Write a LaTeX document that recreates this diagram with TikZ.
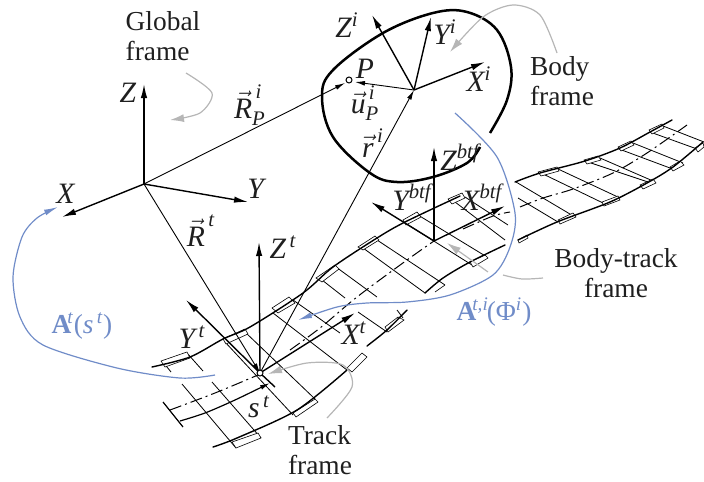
\documentclass[tikz,border=0pt]{standalone}
\usepackage{amsmath}
\usepackage{fontspec}
\setmainfont{Liberation Serif}
\usepackage{tikz}
\usetikzlibrary{arrows.meta}
\definecolor{bluearc}{RGB}{112,140,200}
\definecolor{greyarc}{RGB}{182,182,182}
\newcommand{\ii}[1]{\textit{#1}}
\begin{document}
\begin{tikzpicture}[
  x=.5pt, y=-.5pt,
  lab/.style={font=\fontsize{13.7}{15}\selectfont, inner sep=0pt, text=black!88},
  mlab/.style={font=\fontsize{14.8}{15}\selectfont, inner sep=0pt, text=black!88},
  axis/.style={-{Latex[length=7pt,width=3.2pt]}, line width=.7pt},
  vecline/.style={-{Latex[length=5pt,width=2.4pt]}, line width=.45pt},
  blueline/.style={-{Latex[length=7pt,width=3pt]}, line width=.6pt, bluearc},
  greyline/.style={-{Latex[length=7pt,width=4pt]}, line width=.6pt, greyarc},
  rail/.style={line width=.7pt, line cap=round},
  tieline/.style={line width=.4pt},
  plateline/.style={line width=.3pt},
  centerline/.style={line width=.5pt, dash pattern=on 6pt off 2pt on 1pt off 2pt}]
\useasboundingbox (0,0) rectangle (704,481);
% frame origins and axis tips
\coordinate (global) at (144,184);
\coordinate (body) at (414,90);
\coordinate (track) at (260,373);
\coordinate (btf) at (434,241);
\coordinate (pointP) at (349,80);
% ties
\foreach \ax/\ay/\bx/\by in {187/353/203/371,163/362/171/372,182/384/236/448,212/382/261/438,
  245/332/315/399,225/342/293/415,293/300/340/333,273/313/347/370,
  336/267/377/297,322/280/345/298,358/312/387/332,397/310/403/318,
  377/240/445/285,363/248/425/293,418/215/487/257,405/223/472/265,
  455/202/505/240,465/197/508/225,516/182/575/217,518/198/558/222,
  543/174/603/203,558/169/620/198,588/162/648/182,600/158/653/181,
  619/149/670/168,633/143/683/163,650/132/697/149,663/126/704/142}
  \draw[tieline] (\ax,\ay) -- (\bx,\by);
% plates
\foreach \ax/\ay/\bx/\by/\cx/\cy/\dx/\dy in {161/361/187/352/190/358/165/367,
  223/339/245/329/248/334/226/344,272/308/289/297/295/303/278/313,
  316/278/335/265/339/269/322/282,358/247/375/236/379/240/363/250,
  403/220/417/212/421/217/406/225,448/199/462/193/465/198/452/204,
  538/172/557/167/559/171/541/176,584/160/598/156/601/160/587/164,
  618/147/631/141/634/145/621/151,649/130/662/124/664/128/652/134,
  236/448/261/438/258/433/232/442,293/413/315/399/318/402/296/417,
  347/368/362/353/367/357/352/372,385/327/398/317/404/320/388/332,
  470/262/485/255/488/258/473/267,
  518/240/527/235/528/238/519/243,558/220/573/213/576/217/560/224,
  602/202/618/196/620/200/604/206,640/185/653/179/656/183/643/189,
  670/167/680/161/684/165/673/171,695/148/703/143/704/147/698/152}
  \draw[plateline, fill=white] (\ax,\ay) -- (\bx,\by) -- (\cx,\cy) -- (\dx,\dy) -- cycle;
\draw[plateline] (435,292) -- (445,285);
% rails
\draw[rail] plot[smooth] coordinates {(152,367) (190,357) (223,339) (250,327) (303,293) (333,267) (377,238) (405,222) (460,196)};
\draw[rail] plot[smooth] coordinates {(515,182) (540,173) (585,161) (620,148) (650,132) (672,120)};
\draw[rail] plot[smooth] coordinates {(213,447) (237,438) (297,410) (347,370)};
\draw[rail] plot[smooth] coordinates {(367,346) (387,330) (407,310)};
\draw[rail] plot[smooth] coordinates {(425,293) (443,278) (470,262) (505,245)};
\draw[rail] plot[smooth] coordinates {(518,240) (557,222) (610,202) (647,183) (673,167) (703,142)};
% center line
\draw[centerline] plot[smooth] coordinates {(170,410) (215,393) (258,375)};
\draw[centerline] plot[smooth] coordinates {(290,350) (320,328) (357,297) (407,260) (434,241)};
\draw[centerline] plot[smooth] coordinates {(463,229) (493,216) (510,212)};
\draw[centerline] plot[smooth] coordinates {(520,207) (543,198) (573,189) (613,173) (647,153) (687,125)};
% arc length
\draw[line width=.6pt] (163,402) -- (183,427);
\draw[vecline, line width=.6pt] plot[smooth] coordinates {(180,421) (205,413) (235,400) (270,383)};
% body outline
\draw[line width=1.25pt] plot[smooth, tension=.6] coordinates {(490,133) (507,100) (511,67) (497,30) (467,12) (433,13) (383,33) (333,70) (322,97) (333,137) (370,173) (397,182) (433,177) (467,163) (480,147)};
% vectors
\draw[vecline] (global) -- (345,83);
\draw[vecline] (global) -- (track);
\draw[vecline] (track) -- (body);
\draw[vecline] (body) -- (355,82);
% axes
\draw[axis] (global) -- (144,84) coordinate (globalZ);
\draw[axis] (global) -- (62,217) coordinate (globalX);
\draw[axis] (global) -- (248,202) coordinate (globalY);
\draw[axis] (body) -- (372,15) coordinate (bodyZ);
\draw[axis] (body) -- (431,17) coordinate (bodyY);
\draw[axis] (body) -- (485,62) coordinate (bodyX);
\draw[axis] (track) -- (259,242) coordinate (trackZ);
\draw[axis] (track) -- (186,300) coordinate (trackY);
\draw[axis] (track) -- (355,313) coordinate (trackX);
\draw[line width=.7pt] (track) -- (275,387);
\draw[axis] (btf) -- (434,147) coordinate (btfZ);
\draw[axis] (btf) -- (371,202) coordinate (btfY);
\draw[axis] (btf) -- (505,206) coordinate (btfX);
\draw[line width=.5pt, fill=white] (track) circle (3);
\draw[line width=.5pt, fill=white] (pointP) circle (3);
% blue arcs
\draw[blueline] plot[smooth] coordinates {(215,375) (180,378) (117,368) (43,345) (20,317) (13,277) (22,237) (37,218) (58,207)};
\draw[blueline] plot[smooth] coordinates {(455,113) (497,157) (515,213) (510,247) (493,275) (450,295) (407,302) (367,303) (337,307) (298,320)};
% grey arcs
\draw[greyline] plot[smooth] coordinates {(186,73) (212,93) (200,113) (170,120)};
\draw[greyline] plot[smooth] coordinates {(557,53) (540,15) (513,5) (483,17) (450,52)};
\draw[line width=.6pt, greyarc] plot[smooth] coordinates {(543,278) (522,279) (503,275)};
\draw[greyline] plot[smooth] coordinates {(488,272) (467,257) (447,243)};
\draw[greyline] plot[smooth] coordinates {(327,418) (352,387) (343,365) (307,363) (268,374)};
% frame names
\node[lab, align=left] (globalname) at (163,36) {Global\\frame};
\node[lab, align=left] (bodyname) at (562,81) {Body\\frame};
\node[lab, align=center] (btfname) at (616,273) {Body-track\\frame};
\node[lab, align=left] (trackname) at (320,450) {Track\\frame};
% axis names
\node[mlab] (zG) at (128,93) {\ii{Z}};
\node[mlab] (xG) at (66,194) {\ii{X}};
\node[mlab] (yG) at (257,189) {\ii{Y}};
\node[mlab] (rP) at (250,105) {$\vec{\ii{R}}^{\,\ii{i}}_{\ii{P}}$};
\node[mlab] (rT) at (201,231) {$\vec{\ii{R}}^{\,\ii{t}}$};
\node[mlab] (zT) at (283,247) {$\ii{Z}^{\,\ii{t}}$};
\node[mlab] (yT) at (192,337) {$\ii{Y}^{\,\ii{t}}$};
\node[mlab] (xT) at (354,333) {$\ii{X}^{\ii{t}}$};
\node[mlab] (sT) at (259,407) {$\ii{s}^{\,\ii{t}}$};
\node[mlab] (zB) at (347,25) {$\ii{Z}^{\ii{i}}$};
\node[mlab] (yB) at (445,32) {$\ii{Y}^{\ii{i}}$};
\node[mlab] (xB) at (479,79) {$\ii{X}^{\ii{i}}$};
\node[mlab] (pP) at (365,69) {\ii{P}};
\node[mlab] (uP) at (365,103) {$\vec{\ii{u}}^{\,\ii{i}}_{\ii{P}}$};
\node[mlab] (rB) at (373,143) {$\vec{\ii{r}}^{\,\ii{i}}$};
\node[mlab] (zF) at (460,157) {$\ii{Z}^{\ii{btf}}$};
\node[mlab] (yF) at (412,197) {$\ii{Y}^{\ii{btf}}$};
\node[mlab] (xF) at (482,197) {$\ii{X}^{\ii{btf}}$};
\node[lab, text=bluearc] (aT) at (82,326) {\textbf{A}$^{\hspace{-2pt}\ii{t}}$(\ii{s}$^{\,\ii{t}}$)};
\node[lab, text=bluearc] (aF) at (494,312) {\textbf{A}$^{\hspace{-2pt}\ii{t,i}}$\hspace{-1pt}(Φ$^{\ii{i}}$)};
\end{tikzpicture}
\end{document}
